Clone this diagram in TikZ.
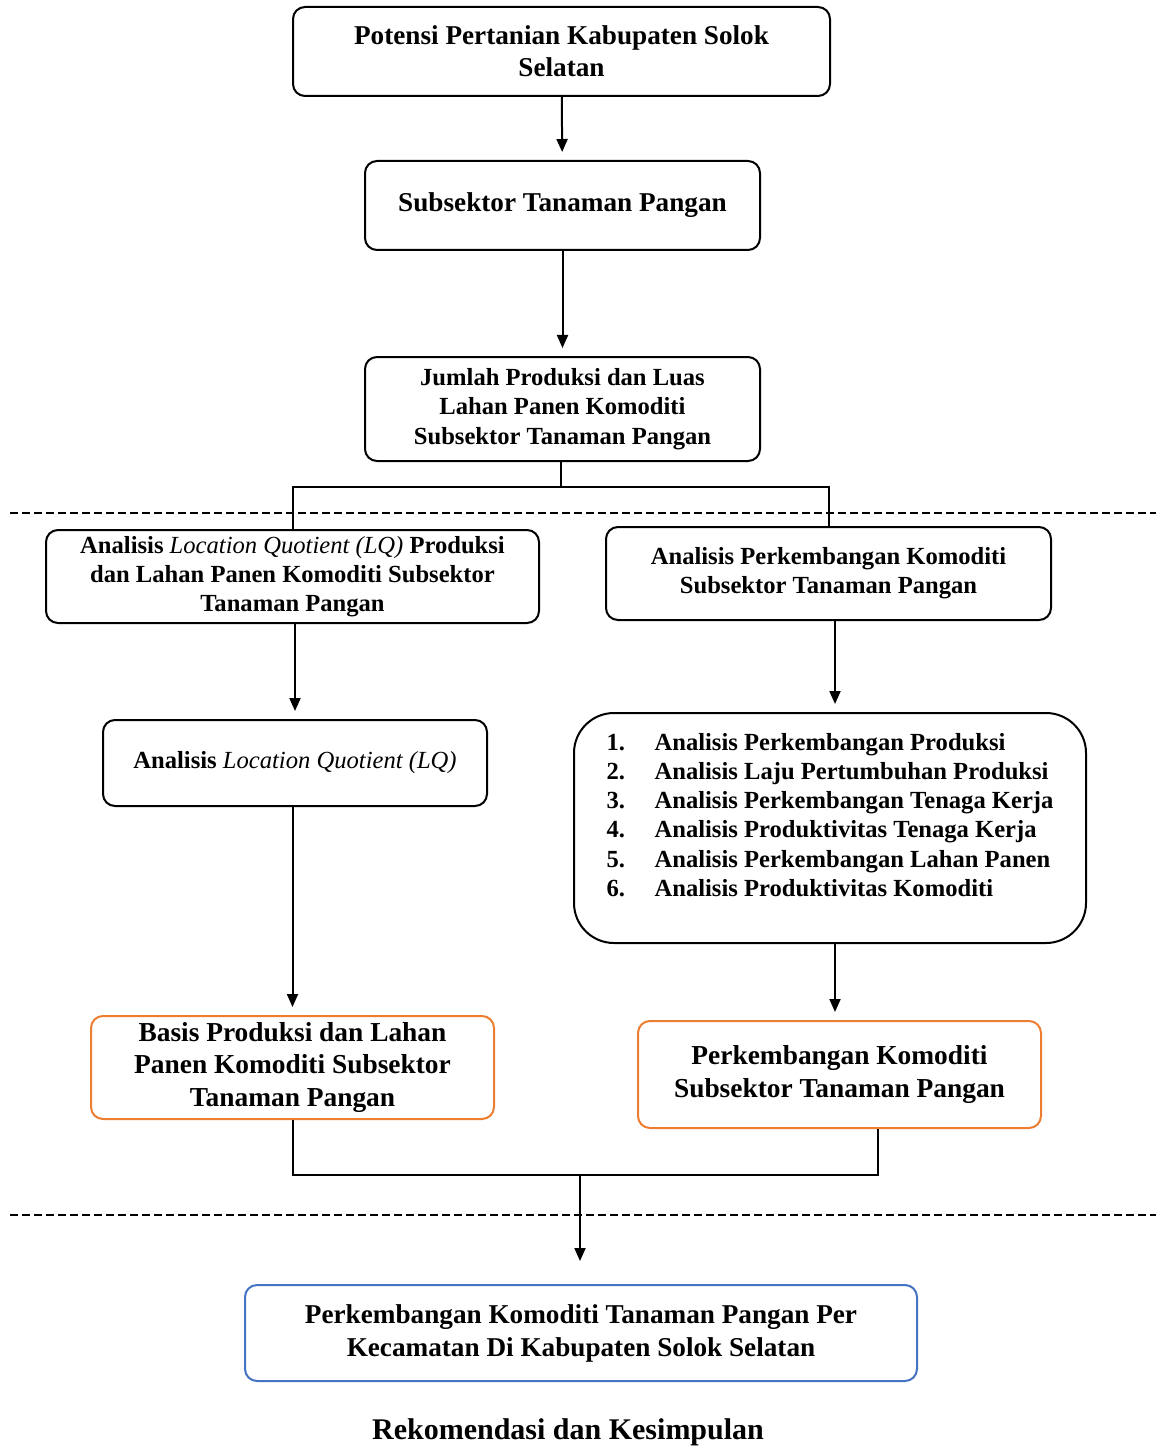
\documentclass[tikz,border=0pt]{standalone}
\usepackage{fontspec}
\setmainfont{Liberation Serif}
\usetikzlibrary{arrows.meta, positioning, calc}
\definecolor{corange}{HTML}{ED7D31}
\definecolor{cblue}{HTML}{4472C4}
\definecolor{cline}{HTML}{000000}

\begin{document}
\begin{tikzpicture}[
  x=0.5pt, y=-0.5pt,
  font=\bfseries\fontsize{13.6}{16}\selectfont,
  >={Triangle[length=6.5pt, width=5.5pt]},
  box/.style={draw=cline, line width=1pt, rounded corners=6pt, align=center,
              inner sep=0pt},
  kecil/.style={box, font=\bfseries\fontsize{12.3}{14.6}\selectfont},
  hasil/.style={box, draw=corange, font=\bfseries\fontsize{13.7}{16.4}\selectfont},
  akhir/.style={box, draw=cblue, font=\bfseries\fontsize{13.6}{16.5}\selectfont},
  arr/.style={->, line width=1pt, draw=cline, shorten >=4pt},
  link/.style={line width=1pt, draw=cline},
  sekat/.style={line width=1pt, dash pattern=on 4pt off 2pt},
  ]
\useasboundingbox (0,0) rectangle (1156,1449);

% alur atas
\node[box, minimum width=268.5pt, minimum height=44.5pt] (potensi) at (561.5,51.5)
  {Potensi Pertanian Kabupaten Solok\\Selatan};
\node[box, minimum width=197.5pt, minimum height=44.5pt] (subsektor) at (562.5,205.5)
  {Subsektor Tanaman Pangan};
\node[kecil, minimum width=197.5pt, minimum height=52pt] (jumlah) at (562.5,409)
  {Jumlah Produksi dan Luas\\Lahan Panen Komoditi\\Subsektor Tanaman Pangan};

% cabang analisis
\node[kecil, minimum width=246.5pt, minimum height=46.5pt] (lq1) at (292.5,576.5)
  {Analisis \textit{\mdseries Location Quotient (LQ)} Produksi\\dan Lahan Panen Komoditi Subsektor\\Tanaman Pangan};
\node[kecil, minimum width=222.5pt, minimum height=46.5pt] (kembang) at (828.5,573.5)
  {Analisis Perkembangan Komoditi\\Subsektor Tanaman Pangan};
\node[kecil, minimum width=192pt, minimum height=43pt] (lq2) at (295,763)
  {Analisis \textit{\mdseries Location Quotient (LQ)}};
\node[kecil, rounded corners=20pt, minimum width=256pt, minimum height=115pt] (daftar) at (830,828)
  {\begin{tabular}{@{}p{24pt}@{}l@{}}
   1. & Analisis Perkembangan Produksi\\
   2. & Analisis Laju Pertumbuhan Produksi\\
   3. & Analisis Perkembangan Tenaga Kerja\\
   4. & Analisis Produktivitas Tenaga Kerja\\
   5. & Analisis Perkembangan Lahan Panen\\
   6. & Analisis Produktivitas Komoditi\rule[-15pt]{0pt}{15pt}
   \end{tabular}};

% hasil
\node[hasil, minimum width=201.5pt, minimum height=51.5pt] (basis) at (292.5,1067.5)
  {Basis Produksi dan Lahan\\Panen Komoditi Subsektor\\Tanaman Pangan};
\node[hasil, minimum width=201.5pt, minimum height=53.5pt] (oranye) at (839.5,1074.5)
  {Perkembangan Komoditi\\Subsektor Tanaman Pangan};
\node[akhir, minimum width=336pt, minimum height=48pt] (akhir) at (581,1333)
  {Perkembangan Komoditi Tanaman Pangan Per\\Kecamatan Di Kabupaten Solok Selatan};
\node[font=\bfseries\fontsize{15}{17}\selectfont] (rekom) at (568,1432)
  {Rekomendasi dan Kesimpulan};

\coordinate (cabang) at (561,487);
\coordinate (gabung) at (580,1175);
\coordinate (kanan) at (878,1175);

% garis putus-putus
\draw[sekat] (10,513) -- (1156,513);
\draw[sekat] (10,1215) -- (1156,1215);

% panah
\draw[arr] (potensi) -- (subsektor);
\draw[arr] (subsektor) -- (jumlah);
\draw[link] (cabang |- jumlah.south) -- (cabang);
\draw[link] (lq1.north) |- (cabang) -| (kembang.north);
\draw[arr] (lq2 |- lq1.south) -- (lq2.north);
\draw[arr] ([xshift=2.5pt]daftar.north |- kembang.south) -- ([xshift=2.5pt]daftar.north);
\draw[arr] (basis |- lq2.south) -- (basis.north);
\draw[arr] ([xshift=2.5pt]daftar.south) -- ([xshift=2.5pt]daftar.south |- oranye.north);
\draw[link] (basis.south) |- (kanan) -- (kanan |- oranye.south);
\draw[arr, shorten >=11.5pt] (gabung) -- (gabung |- akhir.north);
\end{tikzpicture}
\end{document}
